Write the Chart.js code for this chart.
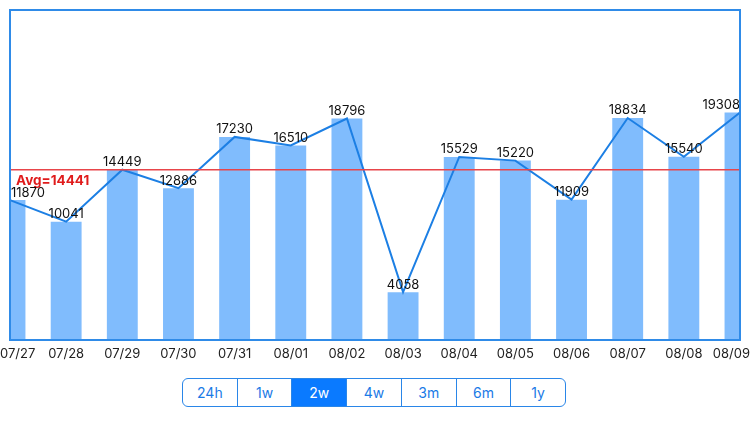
<!DOCTYPE html>
<html>
<head>
<meta charset="utf-8">
<script src="https://cdn.jsdelivr.net/npm/chart.js@4"></script>
<style>
  html, body { margin: 0; padding: 0; background: #fff; }
  .wrap { position: relative; width: 750px; height: 422px; }
  canvas { display: block; }
  .seg {
    position: absolute; left: 182px; top: 378px; width: 384px; height: 29px;
    display: flex; border: 1px solid #2a86e8; border-radius: 6px; box-sizing: border-box; overflow: hidden;
    font-family: Inter, "Noto Sans", sans-serif; font-size: 14px;
  }
  .seg div {
    flex: 1; display: flex; align-items: center; justify-content: center;
    color: #1a7ae6; border-left: 1px solid #2a86e8;
  }
  .seg div:first-child { border-left: none; }
  .seg div.on { background: #0a7aff; color: #fff; }
</style>
</head>
<body>
<div class="wrap">
  <canvas id="chart" width="750" height="370"></canvas>
  <div class="seg" id="seg"></div>
</div>
<script>
const dates = ["07/27", "07/28", "07/29", "07/30", "07/31", "08/01", "08/02", "08/03", "08/04", "08/05", "08/06", "08/07", "08/08", "08/09"];
const counts = [11870, 10041, 14449, 12886, 17230, 16510, 18796, 4058, 15529, 15220, 11909, 18834, 15540, 19308];
const ranges = ["24h", "1w", "2w", "4w", "3m", "6m", "1y"];
const selectedRange = "2w";

const avg = Math.round(counts.reduce((a, b) => a + b, 0) / counts.length);

const seg = document.getElementById("seg");
ranges.forEach((r) => {
  const d = document.createElement("div");
  d.textContent = r;
  if (r === selectedRange) d.className = "on";
  seg.appendChild(d);
});

// frame, avg line, value labels and date labels
const overlay = {
  id: "overlay",
  afterDatasetsDraw(chart) {
    const ctx = chart.ctx;
    const area = chart.chartArea;
    const x = chart.scales.x;
    const y = chart.scales.y;

    // avg line
    const ay = y.getPixelForValue(avg);
    ctx.save();
    ctx.strokeStyle = "#e8454a";
    ctx.lineWidth = 1.5;
    ctx.beginPath();
    ctx.moveTo(area.left, ay);
    ctx.lineTo(area.right, ay);
    ctx.stroke();
    ctx.fillStyle = "#e01b1b";
    ctx.font = "bold 13.5px Inter, 'Noto Sans', sans-serif";
    ctx.textAlign = "left";
    ctx.textBaseline = "top";
    ctx.fillText("Avg=" + avg, area.left + 6, ay + 4);

    // value labels
    ctx.fillStyle = "#111";
    ctx.font = "13px Inter, 'Noto Sans', sans-serif";
    ctx.textBaseline = "bottom";
    ctx.textAlign = "center";
    counts.forEach((v, i) => {
      const w = ctx.measureText(String(v)).width;
      let px = x.getPixelForValue(i);
      px = Math.max(area.left + w / 2 + 1, Math.min(area.right - w / 2, px));
      ctx.fillText(String(v), px, y.getPixelForValue(v) - 1);
    });

    // date labels
    ctx.fillStyle = "#222";
    ctx.font = "13px Inter, 'Noto Sans', sans-serif";
    ctx.textBaseline = "middle";
    dates.forEach((d, i) => {
      const w = ctx.measureText(d).width;
      let px = x.getPixelForValue(i);
      px = Math.max(w / 2, Math.min(chart.width - w / 2, px));
      ctx.fillText(d, px, area.bottom + 14);
    });

    // frame
    ctx.strokeStyle = "#2f8be8";
    ctx.lineWidth = 2;
    ctx.strokeRect(area.left, area.top, area.right - area.left, area.bottom - area.top);
    ctx.restore();
  },
};

new Chart(document.getElementById("chart").getContext("2d"), {
  data: {
    labels: dates,
    datasets: [
      {
        type: "line",
        data: counts,
        borderColor: "#1c7fe4",
        borderWidth: 2,
        tension: 0,
        pointRadius: 0,
        order: 0,
      },
      {
        type: "bar",
        data: counts,
        backgroundColor: "#80bcfd",
        barPercentage: 0.55,
        categoryPercentage: 1,
        clip: 0,
        order: 1,
      },
    ],
  },
  options: {
    responsive: false,
    animation: false,
    layout: { padding: { left: 10, right: 10, top: 10, bottom: 30 } },
    plugins: { legend: { display: false }, tooltip: { enabled: false } },
    scales: {
      x: { offset: false, display: false, grid: { display: false } },
      y: { min: 0, max: 28000, display: false, grid: { display: false } },
    },
  },
  plugins: [overlay],
});
</script>
</body>
</html>
